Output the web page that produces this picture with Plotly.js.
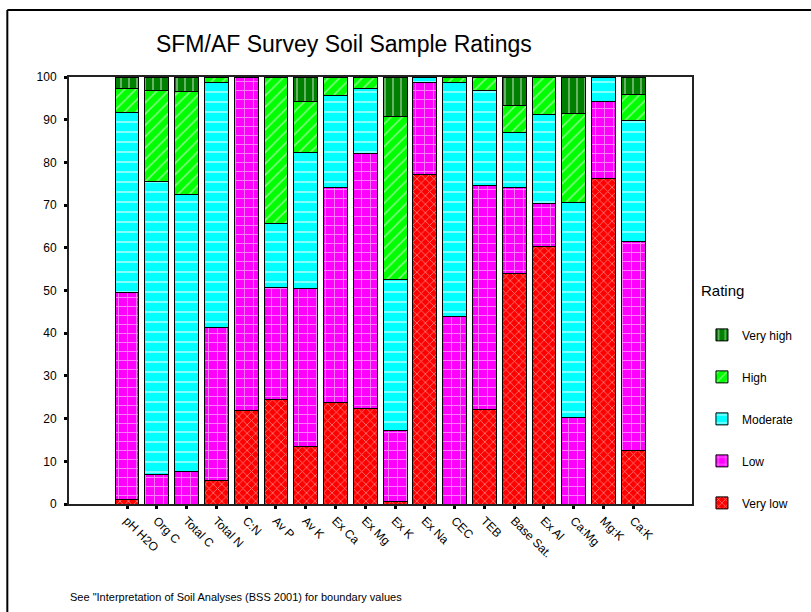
<!DOCTYPE html>
<html>
<head>
<meta charset="utf-8">
<script src="https://cdn.plot.ly/plotly-3.0.1.min.js"></script>
<style>
html,body{margin:0;padding:0;background:#fff;}
#chart{width:811px;height:612px;}
</style>
</head>
<body>
<div id="chart"></div>
<script>
const categories = ['pH H2O','Org C','Total C','Total N','C:N','Av P','Av K','Ex Ca','Ex Mg','Ex K','Ex Na','CEC','TEB','Base Sat.','Ex Al','Ca:Mg','Mg:K','Ca:K'];
const veryLow  = [1.0, 0, 0, 5.4, 22.0, 24.4, 13.5, 23.8, 22.4, 0.5, 77.2, 0, 22.1, 53.9, 60.4, 0, 76.3, 12.6];
const low      = [48.5, 6.9, 7.5, 35.9, 78.0, 26.3, 36.9, 50.3, 59.7, 16.7, 21.4, 44.0, 52.5, 20.2, 10.0, 20.3, 18.0, 48.9];
const moderate = [42.1, 68.6, 64.9, 57.5, 0, 15.0, 32.0, 21.5, 15.1, 35.3, 1.4, 54.8, 22.3, 12.8, 20.8, 50.4, 5.7, 28.4];
const high     = [5.8, 21.4, 24.1, 1.2, 0, 34.3, 11.8, 4.4, 2.8, 38.3, 0, 1.2, 3.1, 6.5, 8.8, 20.8, 0, 6.1];
const veryHigh = [2.6, 3.1, 3.5, 0, 0, 0, 5.8, 0, 0, 9.2, 0, 0, 0, 6.6, 0, 8.5, 0, 4.0];
const yTicks = [0,10,20,30,40,50,60,70,80,90,100];

const FONT = 'Arial, "Liberation Sans", sans-serif';

function series(name, values, color, shape, size, solidity, rank) {
  return {
    type: 'bar', name: name, x: categories, y: values,
    legendgroup: 'g' + rank, legendrank: rank,
    marker: {
      color: color,
      line: {color: '#000', width: 1},
      pattern: {shape: shape, bgcolor: color, fgcolor: '#ffffff', fillmode: 'overlay', size: size, solidity: solidity}
    },
    hoverinfo: 'skip'
  };
}

const data = [
  series('Very low', veryLow, '#ff0000', 'x', 6, 0.25, 5),
  series('Low', low, '#ff00ff', '+', 9, 0.2, 4),
  series('Moderate', moderate, '#00ffff', '-', 10, 0.2, 3),
  series('High', high, '#00ff00', '/', 8, 0.2, 2),
  series('Very high', veryHigh, '#008000', '|', 8, 0.2, 1)
];

const layout = {
  width: 811, height: 612,
  margin: {l: 69, r: 116, t: 77, b: 108, pad: 0},
  paper_bgcolor: '#ffffff', plot_bgcolor: '#ffffff',
  font: {family: FONT, color: '#000', size: 11},
  barmode: 'stack', bargap: 0.2,
  title: {
    text: 'SFM/AF Survey Soil Sample Ratings',
    font: {family: FONT, size: 23, color: '#000'},
    x: 0.424, xanchor: 'center', xref: 'container',
    y: 0.928, yanchor: 'middle', yref: 'container'
  },
  xaxis: {
    type: 'category', range: [-1.95, 18.97],
    showline: true, mirror: true, linecolor: '#222', linewidth: 2,
    showgrid: false, zeroline: false,
    ticks: 'outside', ticklen: 3, tickwidth: 3, tickcolor: '#000',
    tickangle: 45, tickfont: {family: FONT, size: 12, color: '#000'},
    fixedrange: true
  },
  yaxis: {
    range: [0, 100], tickvals: yTicks, ticktext: yTicks.map(String),
    showline: true, mirror: true, linecolor: '#222', linewidth: 2,
    showgrid: false, zeroline: false,
    ticks: 'outside', ticklen: 3, tickwidth: 3, tickcolor: '#000',
    ticklabelstandoff: 5,
    tickfont: {family: FONT, size: 12, color: '#000'},
    fixedrange: true
  },
  showlegend: true,
  legend: {
    x: 1.016, xanchor: 'left', y: 0.430, yanchor: 'top',
    traceorder: 'grouped', tracegroupgap: 23,
    font: {family: FONT, size: 12, color: '#000'},
    bgcolor: 'rgba(0,0,0,0)', itemclick: false, itemdoubleclick: false
  },
  annotations: [
    {
      text: 'See "Interpretation of Soil Analyses (BSS 2001) for boundary values',
      xref: 'paper', yref: 'paper', x: -0.002, y: -0.217,
      xanchor: 'left', yanchor: 'middle', showarrow: false,
      font: {family: FONT, size: 11, color: '#000'}
    },
    {
      text: 'Rating',
      xref: 'paper', yref: 'paper', x: 1.011, y: 0.50,
      xanchor: 'left', yanchor: 'middle', showarrow: false,
      font: {family: FONT, size: 15, color: '#000'}
    }
  ],
  shapes: [
    {type: 'line', xref: 'paper', yref: 'paper', x0: -0.099, x1: 1.5, y0: 1.157, y1: 1.157, line: {color: '#000', width: 2}},
    {type: 'line', xref: 'paper', yref: 'paper', x0: -0.099, x1: -0.099, y0: 1.157, y1: -0.5, line: {color: '#000', width: 2}}
  ]
};

Plotly.newPlot('chart', data, layout, {displayModeBar: false, staticPlot: true});
</script>
</body>
</html>
